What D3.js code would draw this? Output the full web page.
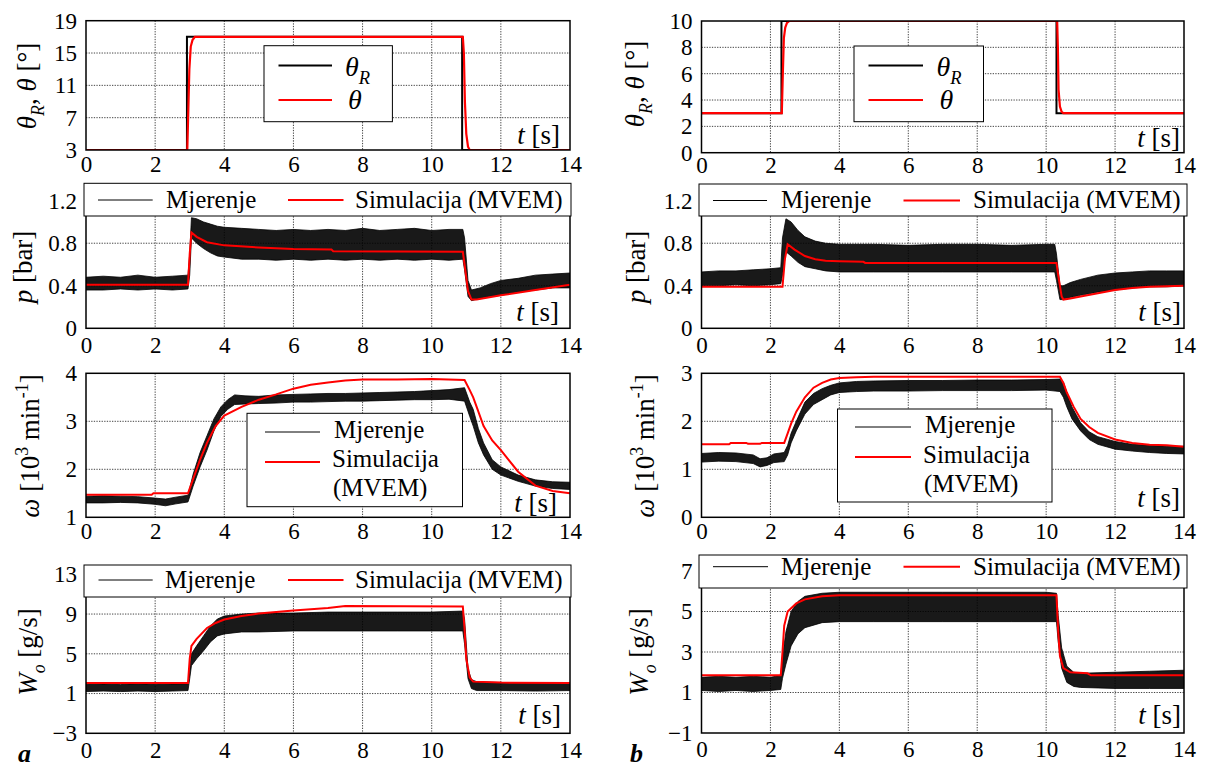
<!DOCTYPE html>
<html><head><meta charset="utf-8">
<script src="https://cdn.jsdelivr.net/npm/d3@7"></script>
<style>
body{margin:0;background:#fff}
svg{display:block}
svg text{font-family:"Liberation Serif",Tinos,"Times New Roman",Times,"Nimbus Roman","DejaVu Serif",serif;fill:#000}
</style></head>
<body><svg id="c" width="1208" height="769"></svg>
<script>
// ---------------- DATA ----------------
const X_TICKS = [0, 2, 4, 6, 8, 10, 12, 14];

// Row 1: throttle angle
const thA_ref_t = [0, 2.92, 2.92, 10.88, 10.88, 14];
const thA_ref   = [3, 3, 17, 17, 3, 3];
const thA_t = [0, 2.93, 2.96, 2.99, 3.03, 3.08, 3.15, 10.9, 10.93, 10.96, 11.0, 11.05, 11.1, 14];
const thA   = [3, 3, 8, 13, 15.8, 16.6, 17, 17, 15, 9, 5, 3.4, 3, 3];
const thB_ref_t = [0, 2.32, 2.32, 10.3, 10.3, 14];
const thB_ref   = [3, 3, 10, 10, 3, 3];
const thB_t = [0, 2.33, 2.36, 2.39, 2.43, 2.48, 2.55, 10.32, 10.34, 10.36, 10.4, 10.45, 10.5, 14];
const thB   = [3, 3, 6, 8.7, 9.5, 9.85, 10, 10, 8, 4.8, 3.5, 3.1, 3, 3];

// Row 2: manifold pressure p [bar]
const pA_sim_t = [0, 2.95, 3.0, 3.05, 3.2, 3.5, 4, 5, 6, 7.1, 7.15, 10.9, 10.95, 11.05, 11.15, 11.3, 12, 13, 14];
const pA_sim   = [0.41, 0.41, 0.7, 0.9, 0.86, 0.81, 0.78, 0.76, 0.745, 0.74, 0.725, 0.72, 0.6, 0.35, 0.27, 0.27, 0.31, 0.36, 0.41];
const pA_meas_t  = [0, 0.5, 1, 1.5, 2, 2.5, 2.95, 3.0, 3.05, 3.2, 3.4, 3.6, 3.8, 4, 4.5, 5, 5.5, 6, 6.5, 7, 7.5, 8, 8.5, 9, 9.5, 10, 10.5, 10.9, 10.95, 11.05, 11.15, 11.4, 11.7, 12, 12.5, 13, 13.5, 14];
const pA_meas_lo = [0.36, 0.36, 0.37, 0.36, 0.37, 0.36, 0.37, 0.5, 0.85, 0.80, 0.75, 0.71, 0.68, 0.67, 0.65, 0.65, 0.64, 0.65, 0.64, 0.65, 0.64, 0.65, 0.64, 0.65, 0.64, 0.65, 0.64, 0.65, 0.55, 0.30, 0.26, 0.28, 0.30, 0.31, 0.34, 0.36, 0.38, 0.38];
const pA_meas_hi = [0.48, 0.49, 0.48, 0.50, 0.48, 0.49, 0.50, 0.70, 1.04, 1.03, 1.0, 0.98, 0.96, 0.95, 0.94, 0.93, 0.92, 0.93, 0.92, 0.93, 0.92, 0.94, 0.92, 0.93, 0.94, 0.92, 0.93, 0.93, 0.85, 0.45, 0.36, 0.38, 0.42, 0.45, 0.47, 0.50, 0.51, 0.52];
const pB_sim_t = [0, 2.35, 2.42, 2.5, 2.7, 3, 3.3, 3.6, 4, 4.7, 4.75, 10.3, 10.35, 10.45, 10.5, 10.7, 11, 11.5, 12, 12.5, 13, 14];
const pB_sim   = [0.39, 0.39, 0.65, 0.79, 0.74, 0.68, 0.65, 0.635, 0.63, 0.625, 0.615, 0.615, 0.5, 0.3, 0.27, 0.28, 0.30, 0.33, 0.36, 0.38, 0.39, 0.40];
const pB_meas_t  = [0, 0.5, 1, 1.5, 2, 2.3, 2.35, 2.45, 2.6, 2.8, 3.0, 3.3, 3.6, 4, 5, 6, 7, 8, 9, 10, 10.25, 10.3, 10.4, 10.5, 10.7, 11, 11.5, 12, 12.5, 13, 13.5, 14];
const pB_meas_lo = [0.40, 0.40, 0.41, 0.40, 0.41, 0.42, 0.5, 0.72, 0.68, 0.62, 0.58, 0.56, 0.54, 0.53, 0.53, 0.53, 0.53, 0.53, 0.53, 0.53, 0.53, 0.45, 0.27, 0.27, 0.29, 0.31, 0.34, 0.36, 0.38, 0.39, 0.39, 0.40];
const pB_meas_hi = [0.53, 0.54, 0.54, 0.55, 0.56, 0.57, 0.85, 1.03, 1.0, 0.92, 0.86, 0.82, 0.80, 0.79, 0.79, 0.78, 0.79, 0.79, 0.78, 0.79, 0.79, 0.70, 0.40, 0.40, 0.43, 0.46, 0.50, 0.52, 0.53, 0.54, 0.54, 0.54];

// Row 3: engine speed omega [10^3 min^-1]
const wA_sim_t = [0, 1.9, 1.95, 2.95, 3.1, 3.3, 3.5, 3.75, 4, 4.5, 5, 5.5, 6, 6.5, 7, 7.5, 8, 9, 10, 10.95, 11.1, 11.2, 11.3, 11.5, 11.75, 12, 12.5, 13, 13.5, 14];
const wA_sim   = [1.47, 1.47, 1.5, 1.5, 1.8, 2.2, 2.55, 2.9, 3.12, 3.3, 3.45, 3.56, 3.68, 3.76, 3.81, 3.85, 3.87, 3.87, 3.88, 3.86, 3.65, 3.5, 3.3, 2.9, 2.6, 2.4, 1.95, 1.66, 1.55, 1.5];
const wA_meas_t  = [0, 0.5, 1, 1.5, 2, 2.3, 2.6, 2.95, 3.1, 3.3, 3.5, 3.7, 3.9, 4.1, 4.3, 4.6, 5, 5.5, 6, 6.5, 7, 7.5, 8, 8.5, 9, 9.5, 10, 10.5, 10.95, 11.1, 11.2, 11.35, 11.5, 11.75, 12, 12.5, 13, 13.5, 14];
const wA_meas_lo = [1.30, 1.30, 1.31, 1.30, 1.27, 1.24, 1.28, 1.32, 1.65, 2.05, 2.4, 2.8, 3.1, 3.25, 3.35, 3.36, 3.37, 3.38, 3.40, 3.40, 3.41, 3.42, 3.42, 3.43, 3.44, 3.45, 3.45, 3.46, 3.42, 3.1, 2.9, 2.55, 2.3, 2.0, 1.88, 1.75, 1.65, 1.6, 1.58];
const wA_meas_hi = [1.44, 1.45, 1.44, 1.43, 1.40, 1.38, 1.42, 1.46, 1.9, 2.35, 2.7, 3.05, 3.3, 3.45, 3.55, 3.53, 3.52, 3.55, 3.56, 3.57, 3.58, 3.58, 3.59, 3.6, 3.61, 3.62, 3.64, 3.66, 3.7, 3.4, 3.25, 2.85, 2.55, 2.2, 2.05, 1.88, 1.78, 1.74, 1.73];
const wB_sim_t = [0, 0.8, 0.85, 1.3, 1.35, 1.7, 1.75, 2.4, 2.5, 2.6, 2.75, 3, 3.25, 3.5, 3.75, 4, 4.5, 5, 10.4, 10.5, 10.6, 10.8, 11, 11.25, 11.5, 12, 12.5, 13, 13.5, 14];
const wB_sim   = [1.52, 1.52, 1.55, 1.55, 1.53, 1.53, 1.55, 1.55, 1.75, 1.95, 2.2, 2.5, 2.7, 2.8, 2.87, 2.9, 2.92, 2.93, 2.93, 2.8, 2.6, 2.3, 2.05, 1.88, 1.76, 1.62, 1.55, 1.51, 1.5, 1.47];
const wB_meas_t  = [0, 0.5, 1, 1.5, 1.7, 1.9, 2.1, 2.4, 2.5, 2.6, 2.75, 3, 3.25, 3.5, 3.75, 4, 4.5, 5, 6, 7, 8, 9, 10, 10.4, 10.5, 10.6, 10.75, 11, 11.25, 11.5, 12, 12.5, 13, 13.5, 14];
const wB_meas_lo = [1.15, 1.17, 1.16, 1.12, 1.05, 1.08, 1.14, 1.16, 1.3, 1.55, 1.8, 2.15, 2.35, 2.45, 2.55, 2.6, 2.62, 2.63, 2.63, 2.64, 2.64, 2.64, 2.65, 2.62, 2.5, 2.3, 2.05, 1.8, 1.62, 1.52, 1.42, 1.38, 1.35, 1.33, 1.32];
const wB_meas_hi = [1.33, 1.35, 1.34, 1.30, 1.22, 1.24, 1.32, 1.35, 1.5, 1.75, 2.0, 2.4, 2.58, 2.68, 2.75, 2.8, 2.83, 2.84, 2.85, 2.85, 2.86, 2.86, 2.87, 2.88, 2.82, 2.6, 2.3, 1.97, 1.78, 1.68, 1.58, 1.52, 1.50, 1.48, 1.48];

// Row 4: air mass flow Wo [g/s]
const WA_sim_t = [0, 2.95, 3.0, 3.05, 3.2, 3.5, 3.75, 4, 4.5, 5, 6, 7, 7.5, 10.9, 10.95, 11.0, 11.1, 11.2, 12, 14];
const WA_sim   = [2.05, 2.05, 4.5, 5.8, 6.5, 7.6, 8.1, 8.45, 8.8, 9.05, 9.35, 9.6, 9.8, 9.75, 7.5, 4.5, 2.6, 2.2, 2.1, 2.05];
const WA_meas_t  = [0, 0.5, 1, 1.5, 2, 2.5, 2.95, 3.0, 3.05, 3.2, 3.4, 3.6, 3.8, 4, 4.5, 5, 6, 7, 8, 9, 10, 10.9, 10.95, 11.05, 11.15, 11.3, 12, 13, 14];
const WA_meas_lo = [1.2, 1.25, 1.2, 1.25, 1.2, 1.25, 1.3, 2.5, 3.8, 4.5, 5.3, 6.2, 6.8, 7.0, 7.2, 7.2, 7.3, 7.3, 7.3, 7.3, 7.3, 7.3, 6.0, 2.5, 1.5, 1.3, 1.3, 1.25, 1.3];
const WA_meas_hi = [1.9, 1.95, 1.9, 2.0, 1.9, 1.95, 2.0, 3.5, 5.0, 5.8, 6.8, 7.8, 8.5, 8.8, 9.0, 9.1, 9.1, 9.2, 9.2, 9.2, 9.2, 9.3, 8.5, 3.5, 2.4, 2.2, 2.1, 2.1, 2.1];
const WB_sim_t = [0, 2.3, 2.35, 2.4, 2.5, 2.75, 3, 3.5, 4, 10.3, 10.35, 10.4, 10.5, 10.7, 11.2, 11.3, 14];
const WB_sim   = [1.85, 1.85, 3, 4.3, 5.0, 5.4, 5.6, 5.75, 5.8, 5.8, 4, 2.8, 2.2, 2.0, 1.95, 1.85, 1.85];
const WB_meas_t  = [0, 0.5, 1, 1.5, 2, 2.3, 2.35, 2.45, 2.6, 2.8, 3, 3.5, 4, 5, 6, 7, 8, 9, 10, 10.3, 10.35, 10.45, 10.6, 10.8, 11, 12, 13, 14];
const WB_meas_lo = [1.1, 1.05, 1.1, 1.05, 1.1, 1.15, 1.7, 2.4, 3.3, 3.9, 4.2, 4.45, 4.5, 4.5, 4.5, 4.5, 4.5, 4.5, 4.5, 4.5, 3.5, 2.2, 1.5, 1.3, 1.25, 1.2, 1.2, 1.2];
const WB_meas_hi = [1.75, 1.8, 1.75, 1.8, 1.75, 1.85, 2.8, 4.0, 5.0, 5.5, 5.75, 5.9, 5.95, 5.95, 5.95, 5.95, 5.95, 5.95, 5.95, 5.9, 4.8, 3.2, 2.3, 2.0, 1.95, 2.0, 2.05, 2.1];

// Y tick labels
const yTicks_thA = [3, 7, 11, 15, 19];
const yTicks_thB = [0, 2, 4, 6, 8, 10];
const yTicks_p   = [0, 0.4, 0.8, 1.2];
const yTicks_wA  = [1, 2, 3, 4];
const yTicks_wB  = [0, 1, 2, 3];
const yTicks_WA  = [-3, 1, 5, 9, 13];
const yTicks_WB  = [-1, 1, 3, 5, 7];

// Legend labels
const LEG_MEAS = "Mjerenje";
const LEG_SIM = "Simulacija (MVEM)";

// ---------------- DRAW ----------------
const svg = d3.select("#c");
const FONT = '"Liberation Serif", Tinos, "Times New Roman", Times, "Nimbus Roman", "DejaVu Serif", serif';
const zip = (t, v) => t.map((d, i) => ({t: d, v: v[i]}));
const zip3 = (t, lo, hi) => t.map((d, i) => ({t: d, lo: lo[i], hi: hi[i]}));
let clipId = 0;

function rich(parent, segs, size) {
  const t = parent.append("text").attr("font-size", size).style("font-family", FONT);
  let shift = 0;
  segs.forEach(s => {
    const ts = t.append("tspan").text(s.t);
    if (s.it) ts.attr("font-style", "italic");
    const target = s.sub ? size * 0.28 : s.sup ? -size * 0.4 : 0;
    if (target !== shift) { ts.attr("dy", target - shift); shift = target; }
    if (s.sub || s.sup) ts.attr("font-size", size * 0.66);
  });
  return t;
}

function panel(c) {
  const x = d3.scaleLinear().domain([0, 14]).range([c.x0, c.x1]);
  const y = d3.scaleLinear().domain([c.ticks[0], c.ticks[c.ticks.length - 1]]).range([c.yb, c.yt]);
  const g = svg.append("g");
  const id = "clip" + (clipId++);
  g.append("clipPath").attr("id", id).append("rect")
    .attr("x", c.x0).attr("y", c.yt).attr("width", c.x1 - c.x0).attr("height", c.yb - c.yt);

  // grid
  const grid = g.append("g").attr("stroke", "#444").attr("stroke-width", 1).attr("stroke-dasharray", "1.3,1.3");
  grid.selectAll(".gx").data(X_TICKS.slice(1, -1)).join("line")
    .attr("x1", d => x(d)).attr("x2", d => x(d)).attr("y1", c.yt).attr("y2", c.yb);
  grid.selectAll(".gy").data(c.ticks.slice(1, -1)).join("line")
    .attr("y1", d => y(d)).attr("y2", d => y(d)).attr("x1", c.x0).attr("x2", c.x1);

  const plot = g.append("g").attr("clip-path", `url(#${id})`);
  if (c.band) {
    plot.append("path").datum(c.band)
      .attr("fill", "#000").attr("fill-opacity", 0.9).attr("stroke", "#000").attr("stroke-width", 0.8)
      .attr("d", d3.area().x(d => x(d.t)).y0(d => y(d.lo)).y1(d => y(d.hi)));
  }
  (c.lines || []).forEach(L => {
    plot.append("path").datum(L.data).attr("fill", "none")
      .attr("stroke", L.color).attr("stroke-width", L.w)
      .attr("d", d3.line().x(d => x(d.t)).y(d => y(d.v)));
  });

  // frame
  g.append("rect").attr("x", c.x0).attr("y", c.yt).attr("width", c.x1 - c.x0).attr("height", c.yb - c.yt)
    .attr("fill", "none").attr("stroke", "#000").attr("stroke-width", 1.5);

  // axes
  const ax = g.append("g").attr("transform", `translate(0,${c.yb})`)
    .call(d3.axisBottom(x).tickValues(X_TICKS).tickSize(0).tickPadding(c.xpad).tickFormat(d3.format("d")));
  ax.select(".domain").remove();
  ax.attr("font-size", 23).attr("font-family", null);
  ax.selectAll("text").style("font-family", FONT);
  const ay = g.append("g").attr("transform", `translate(${c.x0},0)`)
    .call(d3.axisLeft(y).tickValues(c.ticks).tickSize(0).tickPadding(9).tickFormat(c.fmt || d3.format("d")));
  ay.select(".domain").remove();
  ay.attr("font-size", 23).attr("font-family", null);
  ay.selectAll("text").style("font-family", FONT);

  // t [s]
  rich(g, [{t: "t", it: true}, {t: " [s]"}], 27).attr("x", c.tx).attr("y", c.ty).attr("text-anchor", "end");

  // y label
  const yl = g.append("g").attr("transform", `translate(${c.ylx + 9},${c.yly}) rotate(-90)`);
  rich(yl, c.ylabel, 27).attr("text-anchor", "middle");

  // legend
  const lg = c.legend;
  if (lg) {
    const L = g.append("g");
    L.append("rect").attr("x", lg.x).attr("y", lg.y).attr("width", lg.w).attr("height", lg.h)
      .attr("fill", "#fff").attr("stroke", "#000").attr("stroke-width", 1);
    lg.items.forEach(it => {
      L.append("line").attr("x1", it.lx1).attr("x2", it.lx2).attr("y1", it.ly).attr("y2", it.ly)
        .attr("stroke", it.color).attr("stroke-width", it.w);
      (it.texts).forEach(tt => {
        rich(L, tt.segs, lg.fs).attr("x", tt.x).attr("y", tt.y);
      });
    });
  }
}

const LX0 = 86, LX1 = 570, RX0 = 701.5, RX1 = 1184;
const thetaLabel = [{t: "θ", it: true}, {t: "R", it: true, sub: true}, {t: ", "}, {t: "θ", it: true}, {t: " [°]"}];
const pLabel = [{t: "p", it: true}, {t: " [bar]"}];
const wLabel = [{t: "ω", it: true}, {t: " [10"}, {t: "3", sup: true}, {t: " min"}, {t: "-1", sup: true}, {t: "]"}];
const WLabel = [{t: "W", it: true}, {t: "o", it: true, sub: true}, {t: " [g/s]"}];
const fmtP = d => d === 0 ? "0" : d3.format(".1f")(d);

function wideLegend(x, y, w, h, ly, ty, bx1, bx2, tx1, rx1, rx2, tx2) {
  return {x, y, w, h, fs: 25, items: [
    {lx1: bx1, lx2: bx2, ly, color: "#000", w: 1, texts: [{x: tx1, y: ty, segs: [{t: LEG_MEAS}]}]},
    {lx1: rx1, lx2: rx2, ly, color: "#f00", w: 2, texts: [{x: tx2, y: ty, segs: [{t: LEG_SIM}]}]}
  ]};
}
function thetaLegend(x, y, w, h, lx1, lx2, tx) {
  return {x, y, w, h, fs: 28, items: [
    {lx1, lx2, ly: 65.5, color: "#000", w: 2, texts: [{x: tx, y: 76, segs: [{t: "θ", it: true}, {t: "R", it: true, sub: true}]}]},
    {lx1, lx2, ly: 100, color: "#f00", w: 2, texts: [{x: tx + 3, y: 109, segs: [{t: "θ", it: true}]}]}
  ]};
}
function stackLegend(x, y, w, h, lx1, lx2, ly1, ly2, tx, b1, b2, b3) {
  return {x, y, w, h, fs: 25, items: [
    {lx1, lx2, ly: ly1, color: "#000", w: 1, texts: [{x: tx + 2, y: b1, segs: [{t: LEG_MEAS}]}]},
    {lx1, lx2, ly: ly2, color: "#f00", w: 2, texts: [{x: tx, y: b2, segs: [{t: "Simulacija"}]}, {x: tx + 1, y: b3, segs: [{t: "(MVEM)"}]}]}
  ]};
}

// Row 1
panel({x0: LX0, x1: LX1, yt: 20.7, yb: 150, ticks: yTicks_thA, xpad: 6, tx: 560, ty: 144,
  ylx: 27, yly: 86, ylabel: thetaLabel,
  lines: [{data: zip(thA_ref_t, thA_ref), color: "#000", w: 2}, {data: zip(thA_t, thA), color: "#f00", w: 2.2}],
  legend: thetaLegend(264, 45.7, 128.4, 76, 278.5, 332, 345)});
panel({x0: RX0, x1: RX1, yt: 21, yb: 152.7, ticks: yTicks_thB, xpad: 4, tx: 1180, ty: 147,
  ylx: 635, yly: 84, ylabel: thetaLabel,
  lines: [{data: zip(thB_ref_t, thB_ref), color: "#000", w: 2}, {data: zip(thB_t, thB), color: "#f00", w: 2.2}],
  legend: thetaLegend(854, 46, 129.5, 75.7, 868.5, 923, 936.5)});

// Row 2
panel({x0: LX0, x1: LX1, yt: 200.7, yb: 328.3, ticks: yTicks_p, fmt: fmtP, xpad: 8, tx: 559, ty: 321,
  ylx: 23, yly: 267, ylabel: pLabel,
  band: zip3(pA_meas_t, pA_meas_lo, pA_meas_hi),
  lines: [{data: zip(pA_sim_t, pA_sim), color: "#f00", w: 2}],
  legend: wideLegend(84, 183.3, 487, 32.7, 200, 208, 98, 152.7, 166, 288, 343.5, 355)});
panel({x0: RX0, x1: RX1, yt: 200.7, yb: 328.3, ticks: yTicks_p, fmt: fmtP, xpad: 8, tx: 1181, ty: 321,
  ylx: 636, yly: 267, ylabel: pLabel,
  band: zip3(pB_meas_t, pB_meas_lo, pB_meas_hi),
  lines: [{data: zip(pB_sim_t, pB_sim), color: "#f00", w: 2}],
  legend: wideLegend(699, 184, 488, 32, 200.5, 208, 713, 767, 781, 903.5, 960, 973)});

// Row 3
panel({x0: LX0, x1: LX1, yt: 373.3, yb: 517.3, ticks: yTicks_wA, xpad: 5, tx: 557, ty: 512,
  ylx: 30, yly: 446, ylabel: wLabel,
  band: zip3(wA_meas_t, wA_meas_lo, wA_meas_hi),
  lines: [{data: zip(wA_sim_t, wA_sim), color: "#f00", w: 2}],
  legend: stackLegend(247, 413.3, 215.5, 93.4, 265, 320, 432, 462, 332, 438, 467, 496)});
panel({x0: RX0, x1: RX1, yt: 373.3, yb: 517.3, ticks: yTicks_wB, xpad: 5, tx: 1180, ty: 507,
  ylx: 645, yly: 446, ylabel: wLabel,
  band: zip3(wB_meas_t, wB_meas_lo, wB_meas_hi),
  lines: [{data: zip(wB_sim_t, wB_sim), color: "#f00", w: 2}],
  legend: stackLegend(837.5, 409, 214.5, 93, 855, 911, 427, 457, 923, 433, 463, 492)});

// Row 4
panel({x0: LX0, x1: LX1, yt: 574.3, yb: 733.3, ticks: yTicks_WA, xpad: 8, tx: 561, ty: 724,
  ylx: 28, yly: 652, ylabel: WLabel,
  band: zip3(WA_meas_t, WA_meas_lo, WA_meas_hi),
  lines: [{data: zip(WA_sim_t, WA_sim), color: "#f00", w: 2}],
  legend: wideLegend(84, 565, 487, 32, 580, 588, 98.5, 152.7, 165, 288, 343.5, 355)});
panel({x0: RX0, x1: RX1, yt: 571, yb: 733, ticks: yTicks_WB, xpad: 8, tx: 1181, ty: 724,
  ylx: 639, yly: 652, ylabel: WLabel,
  band: zip3(WB_meas_t, WB_meas_lo, WB_meas_hi),
  lines: [{data: zip(WB_sim_t, WB_sim), color: "#f00", w: 2}],
  legend: wideLegend(699, 555, 488, 33, 566.7, 575, 713, 768, 781, 903.5, 960, 973)});

// panel letters
svg.append("text").attr("x", 18).attr("y", 762).attr("font-size", 26).attr("font-weight", "bold").attr("font-style", "italic").style("font-family", FONT).text("a");
svg.append("text").attr("x", 630).attr("y", 762).attr("font-size", 26).attr("font-weight", "bold").attr("font-style", "italic").style("font-family", FONT).text("b");
</script></body></html>
